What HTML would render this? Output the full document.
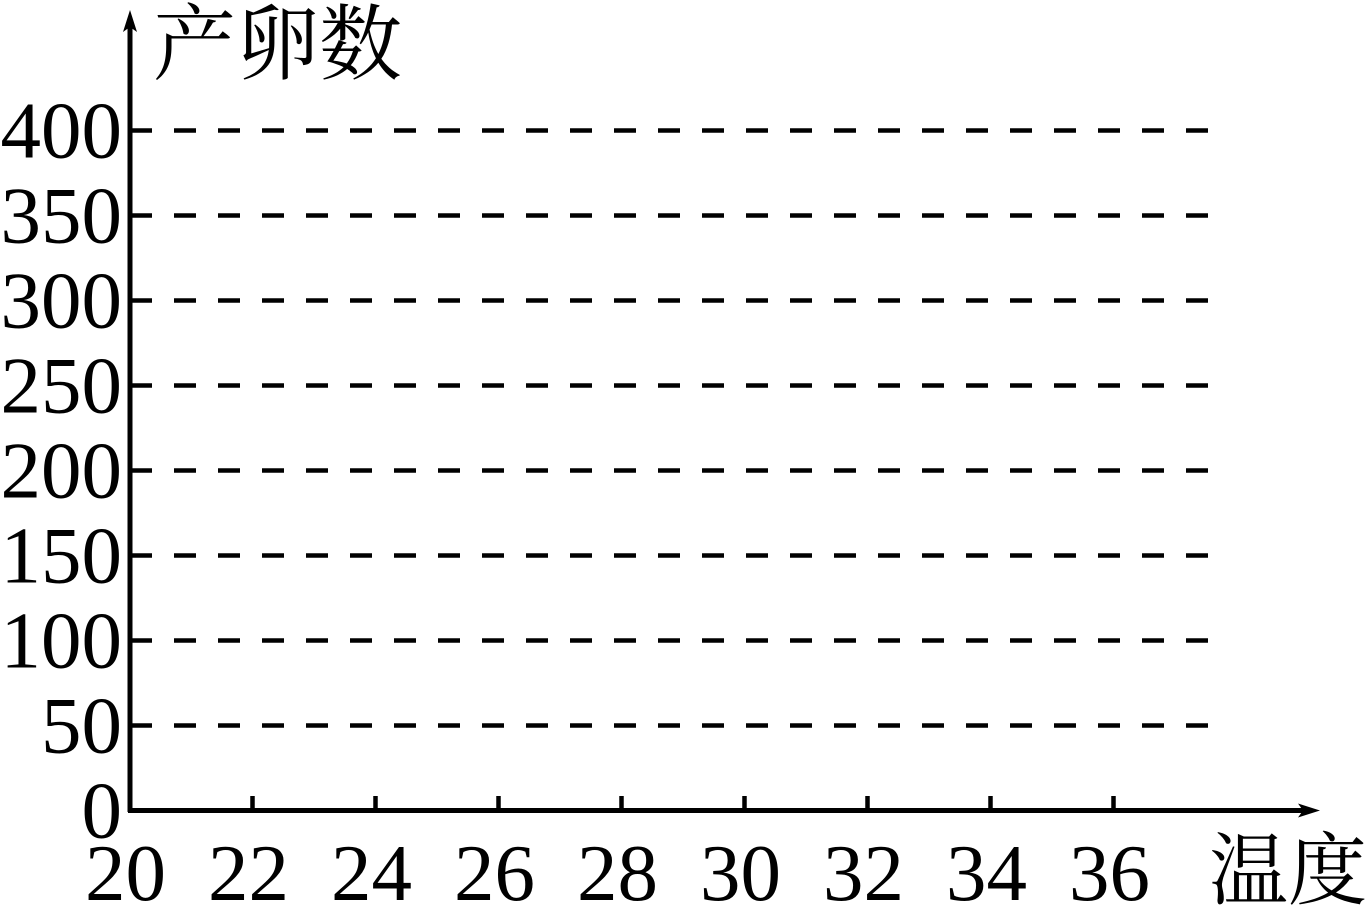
<!DOCTYPE html>
<html><head><meta charset="utf-8"><style>
html,body{margin:0;padding:0;background:#fff;}
svg{display:block;}
text{font-family:"Liberation Serif","Noto Serif CJK SC",serif;fill:#000;}
</style></head><body>
<svg id="chart" width="1369" height="910" viewBox="0 0 1369 910" xmlns="http://www.w3.org/2000/svg">
<g id="grid"></g>
<g id="axes">
  <line x1="130" y1="22" x2="130" y2="812" stroke="#000" stroke-width="5"/>
  <polygon points="130,10 123,32 130,27 137,32" fill="#000"/>
  <line x1="128" y1="810.5" x2="1305" y2="810.5" stroke="#000" stroke-width="5"/>
  <polygon points="1320,810.5 1298,803.5 1303,810.5 1298,817.5" fill="#000"/>
</g>
<g id="yticks"></g>
<g id="xticks"></g>
<text x="153" y="73" font-size="83">产卵数</text>
<text x="1209" y="898" font-size="79">温度</text>
</svg>
<script>
const yTicks = [0, 50, 100, 150, 200, 250, 300, 350, 400];
const xTicks = [20, 22, 24, 26, 28, 30, 32, 34, 36];
const NS = "http://www.w3.org/2000/svg";
function yScale(v){ return 810.5 - v * (85/50); }
function xScale(v){ return 129.5 + (v - 20) * (123/2); }
const grid = document.getElementById('grid');
const yt = document.getElementById('yticks');
const xt = document.getElementById('xticks');
yTicks.forEach(v => {
  const y = yScale(v);
  if (v > 0) {
    const l = document.createElementNS(NS, 'line');
    
    
    l.setAttribute('x1', 130); l.setAttribute('x2', 1209);
    l.setAttribute('y1', y); l.setAttribute('y2', y);
    l.setAttribute('stroke', '#000'); l.setAttribute('stroke-width', '4.5');
    l.setAttribute('stroke-dasharray', '22 22');
    grid.appendChild(l);
  }
  const t = document.createElementNS(NS, 'text');
  
  
  t.setAttribute('x', 122); t.setAttribute('y', y + 27);
  t.setAttribute('text-anchor', 'end'); t.setAttribute('font-size', '81');
  t.textContent = v;
  yt.appendChild(t);
});
xTicks.forEach(v => {
  const x = xScale(v);
  if (v > 20) {
    const l = document.createElementNS(NS, 'line');
    
    
    l.setAttribute('x1', x); l.setAttribute('x2', x);
    l.setAttribute('y1', 796); l.setAttribute('y2', 811);
    l.setAttribute('stroke', '#000'); l.setAttribute('stroke-width', '4.5');
    xt.appendChild(l);
  }
  const t = document.createElementNS(NS, 'text');
  
  
  t.setAttribute('x', x - 4); t.setAttribute('y', 900);
  t.setAttribute('text-anchor', 'middle'); t.setAttribute('font-size', '81');
  t.textContent = v;
  xt.appendChild(t);
});
</script>
</body></html>
